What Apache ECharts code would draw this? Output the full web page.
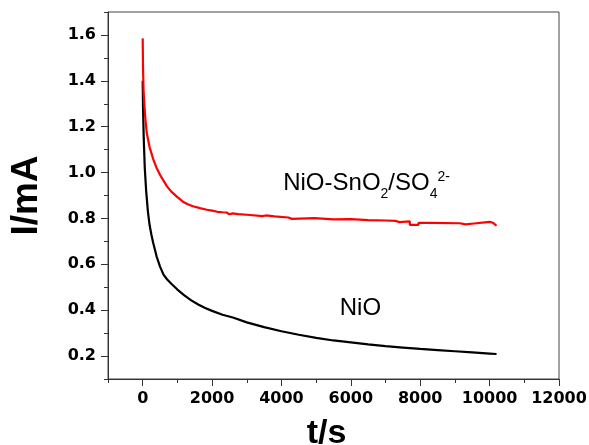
<!DOCTYPE html>
<html>
<head>
<meta charset="utf-8">
<script src="https://cdn.jsdelivr.net/npm/echarts@6/dist/echarts.min.js"></script>
<style>
html,body{margin:0;padding:0;background:#fff;}
#c{width:589px;height:445px;}
</style>
</head>
<body>
<div id="c"></div>
<script>
// ---- data ----
var nioT = [0, 10, 30, 60, 100, 150, 200, 250, 300, 400, 500, 600, 700, 825, 1000, 1200, 1400, 1600, 1800, 2000, 2300, 2600, 3000, 3500, 4000, 4500, 5000, 5500, 6000, 6500, 7000, 7500, 8000, 8500, 9000, 9500, 10000, 10200];
var nioI = [1.40, 1.28, 1.15, 1.02, 0.92, 0.83, 0.77, 0.73, 0.695, 0.635, 0.59, 0.555, 0.535, 0.515, 0.49, 0.465, 0.443, 0.425, 0.41, 0.397, 0.38, 0.368, 0.347, 0.326, 0.308, 0.293, 0.279, 0.268, 0.26, 0.251, 0.243, 0.237, 0.231, 0.226, 0.221, 0.216, 0.211, 0.209];

var compT = [0, 10, 25, 50, 80, 120, 200, 300, 400, 500, 600, 700, 825, 1000, 1160, 1300, 1450, 1650, 1850, 2000, 2150, 2300, 2420, 2420, 2500, 2500, 2600, 2600, 2750, 2750, 3100, 3100, 3450, 3450, 3550, 3550, 3800, 3800, 4200, 4200, 4300, 4300, 4950, 4950, 5500, 5500, 6000, 6000, 6500, 6500, 7000, 7000, 7300, 7300, 7400, 7400, 7700, 7700, 7950, 7950, 8300, 8300, 9150, 9150, 9300, 9300, 9550, 9550, 10000, 10100, 10200];
var compI = [1.585, 1.45, 1.36, 1.29, 1.23, 1.17, 1.11, 1.06, 1.02, 0.99, 0.965, 0.94, 0.917, 0.893, 0.873, 0.862, 0.853, 0.845, 0.838, 0.834, 0.829, 0.827, 0.826, 0.818, 0.818, 0.822, 0.822, 0.819, 0.819, 0.815, 0.815, 0.810, 0.810, 0.813, 0.813, 0.809, 0.809, 0.804, 0.804, 0.798, 0.798, 0.801, 0.801, 0.796, 0.796, 0.797, 0.797, 0.793, 0.793, 0.791, 0.791, 0.789, 0.789, 0.784, 0.784, 0.787, 0.787, 0.772, 0.772, 0.781, 0.781, 0.779, 0.779, 0.774, 0.774, 0.778, 0.778, 0.785, 0.785, 0.781, 0.768];

var xMajorTicks = [0, 2000, 4000, 6000, 8000, 10000, 12000];
var yMajorTicks = [0.2, 0.4, 0.6, 0.8, 1.0, 1.2, 1.4, 1.6];
var seriesNames = ['NiO', 'NiO-SnO2/SO4 2-'];
// annotation pieces: [text, role]
var compLabelParts = [['NiO-SnO', 'main'], ['2', 'sub'], ['/SO', 'main'], ['4', 'sub'], ['2-', 'sup']];
var nioLabel = 'NiO';

function zip(a, b) { return a.map(function (v, i) { return [v, b[i]]; }); }

var chart = echarts.init(document.getElementById('c'), null, {renderer: 'canvas'});
var axisColor = '#333';
var tickFont = {fontFamily: 'DejaVu Sans', fontWeight: 'bold', fontSize: 16, color: '#000'};

var option = {
  animation: false,
  backgroundColor: '#fff',
  grid: {left: 108, right: 30, top: 12, bottom: 66, show: true, borderColor: '#444', borderWidth: 1,
    containLabel: false, outerBoundsMode: 'none'},
  xAxis: [{
    type: 'value', min: -1000, max: 12000, interval: 1000, position: 'bottom',
    splitLine: {show: false},
    axisLine: {show: true, onZero: false, lineStyle: {color: axisColor, width: 1}},
    axisTick: {show: true, inside: false, length: 4, lineStyle: {color: axisColor}},
    axisLabel: Object.assign({margin: 12, showMinLabel: true, showMaxLabel: true,
      formatter: function (v) { var r = Math.round(v); return (r >= 0 && r % 2000 === 0) ? String(r) : ''; }}, tickFont),
    name: 't/s', nameLocation: 'middle', nameGap: 38,
    nameTextStyle: {fontFamily: 'Liberation Sans', fontWeight: 'bold', fontSize: 34, color: '#000', padding: [0, 14, 0, 0]}
  }, {
    type: 'value', min: -1000, max: 12000, position: 'bottom', gridIndex: 0,
    splitLine: {show: false},
    axisLine: {show: false, onZero: false},
    axisLabel: {show: false},
    axisTick: {show: true, inside: false, length: 7, customValues: xMajorTicks, lineStyle: {color: axisColor}}
  }],
  yAxis: [{
    type: 'value', min: 0.1, max: 1.7, interval: 0.1, position: 'left',
    splitLine: {show: false},
    axisLine: {show: true, onZero: false, lineStyle: {color: axisColor, width: 1}},
    axisTick: {show: true, inside: false, length: 4, lineStyle: {color: axisColor}},
    axisLabel: Object.assign({margin: 12,
      formatter: function (v) { var r = Math.round(v * 10); return (r % 2 === 0 && r >= 2 && r <= 16) ? (r / 10).toFixed(1) : ''; }}, tickFont),
    name: 'I/mA', nameLocation: 'middle', nameGap: 63,
    nameTextStyle: {fontFamily: 'Liberation Sans', fontWeight: 'bold', fontSize: 37, color: '#000'}
  }, {
    type: 'value', min: 0.1, max: 1.7, position: 'left', gridIndex: 0,
    splitLine: {show: false},
    axisLine: {show: false, onZero: false},
    axisLabel: {show: false},
    axisTick: {show: true, inside: false, length: 7, customValues: yMajorTicks, lineStyle: {color: axisColor}}
  }],
  series: [{
    name: seriesNames[0], type: 'line', data: zip(nioT, nioI), xAxisIndex: 0, yAxisIndex: 0,
    showSymbol: false, symbol: 'none', smooth: false,
    lineStyle: {color: '#000', width: 2.2}
  }, {
    name: seriesNames[1], type: 'line', data: zip(compT, compI), xAxisIndex: 0, yAxisIndex: 0,
    showSymbol: false, symbol: 'none', smooth: false,
    lineStyle: {color: '#ff0000', width: 2.2}
  }]
};
chart.setOption(option);

// annotations anchored in data coordinates
var measureCtx = document.createElement('canvas').getContext('2d');
function textWidth(str, size) {
  measureCtx.font = size + 'px "Liberation Sans"';
  return measureCtx.measureText(str).width;
}
var mainSize = 24, smallSize = 14;
var roleDy = {main: 0, sub: 10.7, sup: -6};
var pComp = chart.convertToPixel({gridIndex: 0}, [4050, 0.953]);
var pNiO = chart.convertToPixel({gridIndex: 0}, [5680, 0.41]);
var graphics = [];
var cx = pComp[0];
compLabelParts.forEach(function (part) {
  var size = part[1] === 'main' ? mainSize : smallSize;
  graphics.push({
    type: 'text', x: cx, y: pComp[1] + roleDy[part[1]], z: 100,
    style: {text: part[0], align: 'left', verticalAlign: 'middle', fill: '#000',
      fontFamily: 'Liberation Sans', fontSize: size}
  });
  cx += textWidth(part[0], size);
});
graphics.push({
  type: 'text', x: pNiO[0], y: pNiO[1], z: 100,
  style: {text: nioLabel, align: 'left', verticalAlign: 'middle', fill: '#000',
    fontFamily: 'Liberation Sans', fontSize: mainSize}
});
chart.setOption({graphic: graphics});
</script>
</body>
</html>
